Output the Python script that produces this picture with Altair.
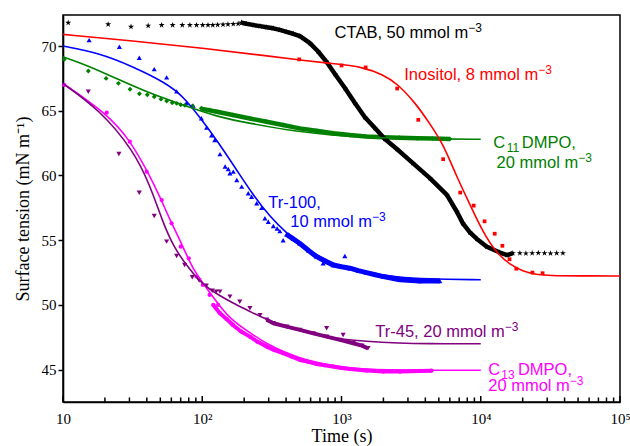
import altair as alt
import pandas as pd

# ---------------- CTAB, 50 mmol m^-3 (stars, no fitted curve) ----------------
ctab_pts_t = [10.9, 21.1, 30.8, 40.9, 51.1, 61.3, 71.9, 81.5, 91, 100.7, 110, 119,
              129, 141, 153, 167, 181, 192]
ctab_pts_v = [71.8, 71.68, 71.49, 71.57, 71.62, 71.62, 71.62, 71.62, 71.62, 71.62,
              71.62, 71.62, 71.64, 71.66, 71.68, 71.7, 71.73, 71.8]
ctab_band_t = [192, 208, 235, 260, 290, 324, 360, 403, 450, 503, 593, 677, 773, 897,
               1058, 1248, 1472, 1737, 2049, 2498, 3255, 4311, 5711, 6737, 7439, 8360,
               9380, 11060, 13710, 15500, 17000]
ctab_band_v = [71.8, 71.72, 71.62, 71.54, 71.45, 71.37, 71.25, 71.1, 70.95, 70.77,
               70.23, 69.6, 68.84, 67.84, 66.76, 65.6, 64.5, 63.67, 62.82, 62.05, 60.96,
               59.8, 58.5, 57.2, 56.3, 55.6, 55.1, 54.5, 54.05, 53.85, 54.0]
ctab_tail_t = [19100, 21100, 23400, 25900, 28700, 31700, 35100, 38900]
ctab_tail_v = [54.0, 53.98, 54.0, 54.02, 54.0, 53.98, 54.0, 54.0]

# ---------------- Inositol, 8 mmol m^-3 ----------------
inos_pts_t = [497, 1000, 1490, 2510, 3560, 5370, 7120, 8900, 10650, 12600, 14300,
              16100, 18000, 23500, 27800]
inos_pts_v = [68.97, 68.5, 68.35, 66.72, 64.3, 61.26, 58.68, 57.67, 56.46, 55.5, 54.57,
              53.53, 52.8, 52.5, 52.45]
inos_fit_t = [10, 31.6, 100, 316, 500, 826, 1433, 2000, 2485, 3400, 4310, 5360, 6720,
              8500, 10400, 13000, 16300, 20000, 25000, 31300, 50000, 100000]
inos_fit_v = [70.9, 70.4, 69.85, 69.2, 68.92, 68.66, 68.4, 67.75, 67.15, 65.6, 64.0,
              62.45, 59.9, 57.6, 55.6, 54.0, 53.1, 52.6, 52.35, 52.26, 52.24, 52.24]

# ---------------- C11DMPO, 20 mmol m^-3 ----------------
c11_pts_t = [10.2, 15.2, 20.4, 25, 30.3, 35.4, 40.3, 45.2, 50.5, 55.5, 60.9, 65.6, 70,
             75, 85, 98.5, 113, 126]
c11_pts_v = [68.97, 68.07, 67.5, 67.12, 66.66, 66.32, 66.24, 66.08, 65.9, 65.75, 65.62,
             65.57, 65.47, 65.42, 65.37, 65.2, 65.06, 64.93]
c11_band_t = [100, 130, 166, 220, 290, 380, 500, 660, 870, 1150, 1500, 2000, 2600, 3500,
              4500, 6000]
c11_band_v = [65.15, 64.9, 64.67, 64.4, 64.15, 63.9, 63.64, 63.45, 63.26, 63.12, 63.02,
              62.96, 62.92, 62.88, 62.85, 62.82]
c11_fit_t = [10, 14.8, 25.6, 42, 73, 127, 220, 476, 1000, 2000, 4000, 10000]
c11_fit_v = [69.17, 68.53, 67.37, 66.35, 65.44, 64.54, 64.03, 63.38, 63.05, 62.9, 62.83,
             62.8]

# ---------------- Tr-100, 10 mmol m^-3 ----------------
tr100_pts_t = [15.4, 25.4, 35.3, 45.2, 55.5, 65.5, 77, 86, 98.6, 107.5, 116.6, 123, 134,
               146, 153.6, 158, 167, 177, 192, 214, 226, 246, 267, 282, 298, 324, 345,
               361, 381, 738, 1057]
tr100_pts_v = [70.46, 69.95, 69.1, 68.22, 67.58, 66.5, 65.6, 65.4, 64.42, 63.7, 63.1,
               62.74, 61.65, 60.7, 60.5, 60.17, 60.3, 59.65, 59.14, 58.63, 58.36, 57.85,
               57.5, 56.7, 56.43, 56.1, 55.9, 55.7, 55.0, 53.22, 53.78]
tr100_band_t = [403, 450, 500, 580, 662, 760, 870, 1000, 1150, 1320, 1510, 1750, 2000,
                2625, 3650, 5080]
tr100_band_v = [55.45, 55.1, 54.76, 54.2, 53.73, 53.4, 53.09, 52.95, 52.84, 52.65, 52.5,
                52.33, 52.19, 51.95, 51.85, 51.85]
tr100_fit_t = [10, 18.4, 31.9, 55.5, 73, 96, 127, 177, 232, 306, 403, 531, 700, 923,
               1214, 1600, 2500, 4000, 10000]
tr100_fit_v = [70.0, 69.44, 68.4, 67.12, 66.1, 64.5, 62.74, 60.42, 58.49, 56.82, 55.54,
               54.5, 53.73, 53.09, 52.7, 52.45, 52.15, 52.0, 51.95]

# ---------------- Tr-45, 20 mmol m^-3 ----------------
tr45_pts_t = [15.2, 25.2, 35.3, 45.2, 55.5, 65.5, 74.7, 84.8, 95, 107, 118, 126, 134,
              158, 186, 220, 260, 782, 1028]
tr45_pts_v = [66.47, 61.66, 58.67, 56.87, 54.89, 53.78, 53.09, 52.14, 51.88, 51.49,
              51.1, 51.03, 51.03, 50.64, 50.25, 49.74, 49.2, 48.2, 47.68]
tr45_band_t = [290, 324, 403, 503, 627, 782, 975, 1214, 1400, 1550]
tr45_band_v = [48.85, 48.58, 48.32, 48.07, 47.8, 47.55, 47.3, 47.04, 46.85, 46.65]
tr45_fit_t = [10, 18.4, 31.9, 42.1, 51.4, 61.9, 81.5, 101.6, 134, 166, 220, 290, 503,
              870, 1510, 2630, 4000, 10000]
tr45_fit_v = [67.1, 65.06, 61.97, 59.27, 56.56, 54.5, 52.7, 51.54, 50.7, 50.15, 49.5,
              48.84, 47.94, 47.42, 47.17, 47.04, 47.0, 47.0]

# ---------------- C13DMPO, 20 mmol m^-3 ----------------
c13_pts_t = [10.2, 20.6, 30.2, 39.9, 51.1, 60.2, 70, 80, 91, 101, 113, 130]
c13_pts_v = [67.0, 64.85, 62.61, 60.29, 58.1, 56.31, 54.5, 53.6, 52.19, 51.54, 50.77,
             50.0]
c13_band_t = [120, 134, 150, 166, 190, 220, 250, 290, 330, 380, 440, 503, 580, 664, 760,
              870, 1000, 1150, 1510, 2000, 2630, 3650, 4430]
c13_band_v = [50.0, 49.36, 48.9, 48.45, 47.95, 47.55, 47.15, 46.78, 46.5, 46.27, 46.0,
              45.75, 45.6, 45.44, 45.33, 45.24, 45.13, 45.05, 44.93, 44.85, 44.85, 44.9,
              44.92]
c13_fit_t = [10, 20.6, 30.2, 39.9, 49.7, 58.6, 69.2, 86.1, 101.6, 134, 166, 220, 290,
             380, 503, 664, 870, 1150, 1510, 2000, 4000, 10000]
c13_fit_v = [67.12, 64.8, 62.74, 60.42, 58.36, 56.56, 55.02, 52.7, 51.67, 49.87, 48.75,
             47.85, 47.0, 46.4, 45.9, 45.55, 45.3, 45.12, 45.03, 44.98, 44.95, 44.95]

# ---------------- curve labels ----------------
# plain pieces, anchored at their left edge
lab_left_text = ["Tr-100,", "C", "DMPO,", "C", "DMPO,"]
lab_left_t = [298, 12274, 19700, 11300, 18500]
lab_left_v = [57.47, 62.1, 62.1, 44.6, 44.6]
lab_left_c = ["#0000ff", "#008000", "#008000", "#ff00ff", "#ff00ff"]
# pieces ending in "m", anchored at their right edge (exponent follows)
lab_right_text = ["CTAB, 50 mmol m", "Inositol, 8 mmol m", "20 mmol m", "10 mmol m",
                  "Tr-45, 20 mmol m", "20 mmol m"]
lab_right_t = [8122, 25835, 50050, 1653, 14890, 43610]
lab_right_v = [70.62, 67.37, 60.6, 56.0, 47.5, 43.36]
lab_right_c = ["#000000", "#ff0000", "#008000", "#0000ff", "#800080", "#ff00ff"]
# subscripts of the DMPO names
lab_sub_text = ["11", "13"]
lab_sub_t = [15390, 14060]
lab_sub_v = [62.1, 44.6]
lab_sub_c = ["#008000", "#ff00ff"]

major_ticks = [10, 100, 1000, 10000, 100000]
minor_mult = [2, 3, 4, 5, 6, 7, 8, 9]
minor_ticks = [m * d for d in [10, 100, 1000, 10000] for m in minor_mult]
y_ticks = [45, 50, 55, 60, 65, 70]

W, H = 557, 387
SERIF = "Liberation Serif"
SANS = "Liberation Sans"
STAR = ("M0,-1L0.2245,-0.309L0.9511,-0.309L0.3633,0.118L0.5878,0.809L0,0.382"
        "L-0.5878,0.809L-0.3633,0.118L-0.9511,-0.309L-0.2245,-0.309Z")

x_scale = alt.Scale(type="log", domain=[10, 100000], nice=False)
y_scale = alt.Scale(domain=[42.5, 72.4], nice=False, zero=False)

x_axis = alt.Axis(
    values=major_ticks,
    labelExpr=("datum.value == 10 ? '10' : datum.value == 100 ? '10\u00b2' : "
               "datum.value == 1000 ? '10\u00b3' : datum.value == 10000 ? '10\u2074' : '10\u2075'"),
    ticks=False, tickSize=0, grid=False, labelFlush=False, labelOverlap=False,
    labelPadding=9, labelFont=SERIF, labelFontSize=15, labelColor="black",
    domainColor="black", domainWidth=1.6,
    title="Time (s)", titleFont=SERIF, titleFontSize=18, titleFontWeight="normal",
    titleColor="black", titleBaseline="alphabetic", titleY=39,
)
y_axis = alt.Axis(
    values=y_ticks, grid=False, tickSize=5, tickWidth=1.5, tickColor="black",
    labelPadding=2, labelFont=SERIF, labelFontSize=15, labelColor="black",
    domainColor="black", domainWidth=1.6,
    title="Surface tension (mN m\u207b\u00b9)", titleFont=SERIF, titleFontSize=18,
    titleFontWeight="normal", titleColor="black", titlePadding=9,
)

X = alt.X("t:Q", scale=x_scale, axis=x_axis)
Y = alt.Y("v:Q", scale=y_scale, axis=y_axis)


def frame(t, v):
    return pd.DataFrame({"t": t, "v": v})


def fit_line(t, v, color):
    return alt.Chart(frame(t, v)).mark_line(
        color=color, strokeWidth=1.6, interpolate="basis"
    ).encode(x=X, y=Y)


def band(t, v, color, width=4.5):
    return alt.Chart(frame(t, v)).mark_line(
        color=color, strokeWidth=width, strokeJoin="round"
    ).encode(x=X, y=Y)


def markers(t, v, color, shape, size):
    return alt.Chart(frame(t, v)).mark_point(
        color=color, shape=shape, size=size, filled=True, opacity=1
    ).encode(x=X, y=Y)


def text_layer(t, v, text, colors, align, size, dy):
    df = pd.DataFrame({"t": t, "v": v, "text": text, "c": colors})
    return alt.Chart(df).mark_text(
        align=align, baseline="alphabetic", font=SANS, fontSize=size, dy=dy
    ).encode(x=X, y=Y, text="text:N", color=alt.Color("c:N", scale=None))


layers = [
    # C13DMPO
    band(c13_band_t, c13_band_v, "#ff00ff", 4),
    markers(c13_pts_t + c13_band_t, c13_pts_v + c13_band_v, "#ff00ff", "circle", 18),
    # Tr-45
    band(tr45_band_t, tr45_band_v, "#800080", 4),
    markers(tr45_pts_t + tr45_band_t, tr45_pts_v + tr45_band_v, "#800080", "triangle-down", 26),
    # Tr-100
    band(tr100_band_t, tr100_band_v, "#0000ff", 5),
    markers(tr100_pts_t + tr100_band_t, tr100_pts_v + tr100_band_v, "#0000ff", "triangle-up", 26),
    # C11DMPO
    band(c11_band_t, c11_band_v, "#008000", 4.5),
    markers(c11_pts_t + c11_band_t, c11_pts_v + c11_band_v, "#008000", "diamond", 24),
    # CTAB
    band(ctab_band_t, ctab_band_v, "#000000", 4.5),
    markers(ctab_pts_t + ctab_band_t + ctab_tail_t, ctab_pts_v + ctab_band_v + ctab_tail_v,
            "#000000", STAR, 40),
    # Inositol
    markers(inos_pts_t, inos_pts_v, "#ff0000", "square", 14),
    # fitted curves
    fit_line(c13_fit_t, c13_fit_v, "#ff00ff"),
    fit_line(tr45_fit_t, tr45_fit_v, "#800080"),
    fit_line(tr100_fit_t, tr100_fit_v, "#0000ff"),
    fit_line(c11_fit_t, c11_fit_v, "#008000"),
    fit_line(inos_fit_t, inos_fit_v, "#ff0000"),
]

# inward-pointing tick marks on the time axis
ticks_major = alt.Chart(pd.DataFrame({"t": major_ticks})).mark_rule(
    color="black", strokeWidth=1.5
).encode(x=X, y=alt.value(H), y2=alt.value(H - 6))
ticks_minor = alt.Chart(pd.DataFrame({"t": minor_ticks})).mark_rule(
    color="black", strokeWidth=1.5
).encode(x=X, y=alt.value(H), y2=alt.value(H - 4.5))

labels = [
    text_layer(lab_left_t, lab_left_v, lab_left_text, lab_left_c, "left", 16.5, 0),
    text_layer(lab_right_t, lab_right_v, lab_right_text, lab_right_c, "right", 16.5, 0),
    # exponent "-3" after every concentration unit
    text_layer(lab_right_t, lab_right_v, ["\u22123"] * len(lab_right_t), lab_right_c,
               "left", 12, -6),
    text_layer(lab_sub_t, lab_sub_v, lab_sub_text, lab_sub_c, "left", 12, 4),
]

chart = alt.layer(*layers, ticks_major, ticks_minor, *labels).properties(
    width=W, height=H,
    padding={"left": 63, "top": 15, "right": 10, "bottom": 44},
    autosize=alt.AutoSizeParams(type="none"),
    background="white",
).configure_view(stroke="black", strokeWidth=1.5)

chart.save("out.html", embed_options={"renderer": "svg", "actions": False})
